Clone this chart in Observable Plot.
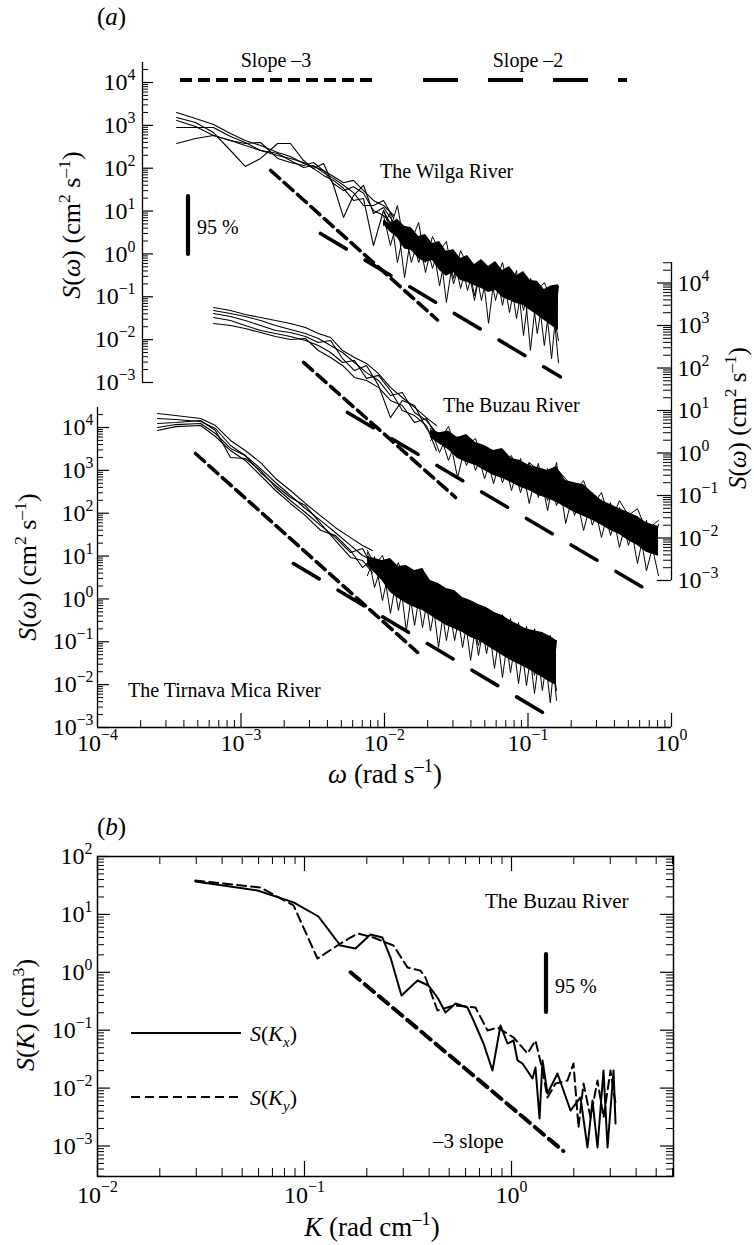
<!DOCTYPE html>
<html><head><meta charset="utf-8">
<script src="https://cdn.jsdelivr.net/npm/d3@7"></script>
<script src="https://cdn.jsdelivr.net/npm/@observablehq/plot@0.6"></script>
<style>
html,body{margin:0;padding:0;background:#fff;}
#chart{position:relative;width:754px;height:1245px;overflow:hidden;background:#fff;font-family:"Liberation Serif","Times New Roman",Times,serif;}
#chart svg{position:absolute;left:0;top:0;font-family:"Liberation Serif","Times New Roman",Times,serif;}
</style></head><body><div id="chart"></div>
<script>
// ================= DATA =================
// Tick decades
const sDecadesA = [1e-3, 1e-2, 1e-1, 1, 10, 100, 1e3, 1e4];
const omegaDecades = [1e-4, 1e-3, 1e-2, 1e-1, 1];
const kDecades = [1e-2, 1e-1, 1];
const sDecadesB = [1e-3, 1e-2, 1e-1, 1, 10, 100];

// ---- Panel (a): The Wilga River ----
const wilgaLowOmega = [3.56e-4, 4.82e-4, 6.43e-4, 8.45e-4, 1.07e-3, 1.37e-3, 1.80e-3, 2.21e-3, 2.73e-3, 3.20e-3, 3.76e-3, 4.41e-3, 5.18e-3, 6.08e-3, 7.14e-3, 8.38e-3, 9.84e-3, 1.16e-2];
const wilgaLowS = [
  [2000, 1450, 1050, 646, 444, 339, 233, 188, 129, 110, 88, 64, 46, 52, 30, 17.7, 13.5, 7.9],
  [1520, 1170, 681, 259, 110, 169, 378, 378, 151, 98, 129, 40, 7.1, 23, 40, 8.8, 12.1, 5.4],
  [891, 891, 891, 550, 398, 259, 198, 169, 136, 98, 68, 52, 34, 17.7, 19.6, 1.57, 10.3, 3.5],
  [378, 493, 580, 444, 339, 259, 220, 151, 104, 116, 79, 58, 40, 27, 13.5, 13.5, 17.7, 6.7],
  [1300, 940, 580, 444, 378, 398, 169, 136, 116, 136, 88, 44, 30, 37, 26, 10.3, 7.9, 4.6]
];
const wilgaBandOmega = [9.84e-3, 1.10e-2, 1.23e-2, 1.38e-2, 1.54e-2, 1.73e-2, 1.93e-2, 2.16e-2, 2.42e-2, 2.70e-2, 3.03e-2, 3.39e-2, 3.79e-2, 4.24e-2, 4.74e-2, 5.31e-2, 5.94e-2, 6.64e-2, 7.43e-2, 8.32e-2, 9.31e-2, 0.104, 0.116, 0.130, 0.146, 0.163];
const wilgaBandHigh = [6.0, 5.0, 6.5, 4.4, 4.1, 2.55, 2.84, 1.75, 1.95, 1.14, 1.27, 0.78, 0.92, 0.57, 0.74, 0.51, 0.67, 0.41, 0.51, 0.31, 0.39, 0.24, 0.23, 0.148, 0.18, 0.19];
const wilgaBandLow = [4.8, 3.2, 2.4, 1.3, 1.2, 0.78, 0.63, 0.70, 0.41, 0.30, 0.37, 0.24, 0.215, 0.18, 0.156, 0.126, 0.14, 0.096, 0.082, 0.070, 0.063, 0.048, 0.037, 0.028, 0.021, 0.0163];
const wilgaSpikes = [
  [7.9, 1.57, 6.0, 0.28, 3.16, 0.63, 2.06, 0.46, 1.57, 0.074, 0.92, 0.156, 0.70, 0.107, 0.63, 0.024, 0.51, 0.063, 0.37, 0.031, 0.31, 0.0056, 0.18, 0.0073, 0.156, 0.0029],
  [4.6, 9.3, 0.63, 3.9, 0.63, 2.55, 0.37, 1.75, 0.18, 1.2, 0.20, 0.78, 0.14, 0.57, 0.082, 0.51, 0.082, 0.41, 0.043, 0.31, 0.048, 0.24, 0.0139, 0.148, 0.0036, 0.18],
  [10.3, 3.9, 13.5, 1.57, 2.06, 5.4, 0.63, 2.55, 1.2, 1.95, 0.267, 1.2, 0.54, 0.082, 0.63, 0.41, 0.215, 0.63, 0.126, 0.41, 0.0125, 0.267, 0.14, 0.215, 0.082, 0.0095]
];
const wilgaSlope3Omega = [1.61e-3, 2.34e-2], wilgaSlope3S = [88.5, 0.0287];
const wilgaSlope2Omega = [3.58e-3, 0.168], wilgaSlope2S = [3.0, 1.36e-3];

// ---- Panel (a): The Buzau River ----
const buzauLowOmega = [6.43e-4, 8.45e-4, 1.07e-3, 1.37e-3, 1.74e-3, 2.21e-3, 2.81e-3, 3.46e-3, 4.21e-3, 5.10e-3, 6.18e-3, 7.49e-3, 9.08e-3, 1.10e-2, 1.33e-2, 1.62e-2, 1.96e-2, 2.30e-2];
const buzauLowS = [
  [2650, 2250, 1820, 1540, 1310, 1110, 897, 648, 522, 258, 177, 128, 74, 35, 20.2, 11.8, 6.8, 4.4],
  [2250, 1910, 1630, 1310, 1000, 805, 648, 494, 338, 232, 135, 78, 51, 22.5, 26.5, 9.0, 5.8, 3.03],
  [1910, 1630, 1310, 1000, 762, 684, 551, 398, 444, 167, 87, 115, 39, 6.8, 17.2, 13.1, 3.77, 1.97],
  [1540, 1310, 1000, 762, 648, 551, 444, 338, 232, 135, 150, 57, 67, 29.5, 10.0, 7.6, 4.4, 1.15],
  [1110, 1000, 850, 684, 551, 469, 494, 258, 177, 115, 60, 51, 35, 17.2, 13.1, 5.2, 6.5, 2.44]
];
const buzauBandOmega = [2.09e-2, 2.42e-2, 2.79e-2, 3.23e-2, 3.73e-2, 4.31e-2, 4.98e-2, 5.75e-2, 6.64e-2, 7.67e-2, 8.87e-2, 0.102, 0.118, 0.137, 0.158, 0.183, 0.211, 0.244, 0.281, 0.325, 0.376, 0.434, 0.501, 0.579, 0.669, 0.812];
const buzauBandHigh = [3.38, 3.0, 3.3, 2.32, 2.72, 1.77, 1.50, 1.15, 1.28, 0.74, 0.67, 0.51, 0.456, 0.39, 0.48, 0.225, 0.20, 0.18, 0.117, 0.076, 0.061, 0.049, 0.040, 0.032, 0.023, 0.0187];
const buzauBandLow = [2.32, 1.6, 1.2, 0.74, 0.60, 0.51, 0.39, 0.295, 0.25, 0.20, 0.154, 0.131, 0.100, 0.085, 0.068, 0.052, 0.040, 0.032, 0.026, 0.020, 0.015, 0.0121, 0.0087, 0.0067, 0.0046, 0.0037];
const buzauSpikes = [
  [3.77, 1.03, 3.03, 0.265, 1.97, 0.39, 1.35, 0.19, 1.03, 0.131, 0.74, 0.065, 0.57, 0.044, 0.60, 0.022, 0.154, 0.015, 0.095, 0.0103, 0.068, 0.0060, 0.040, 0.0025, 0.026, 0.0013],
  [1.97, 3.03, 0.67, 2.44, 0.51, 1.50, 0.25, 1.08, 0.20, 0.78, 0.117, 0.60, 0.090, 0.43, 0.058, 0.19, 0.034, 0.131, 0.020, 0.080, 0.0115, 0.052, 0.0067, 0.032, 0.0017, 0.021],
  [4.4, 1.97, 4.2, 1.03, 1.50, 2.19, 0.43, 1.03, 0.60, 0.87, 0.225, 0.60, 0.39, 0.076, 0.43, 0.25, 0.117, 0.225, 0.058, 0.117, 0.023, 0.076, 0.034, 0.049, 0.015, 0.026]
];
const buzauSlope3Omega = [2.73e-3, 3.13e-2], buzauSlope3S = [135, 0.0898];
const buzauSlope2Omega = [5.52e-3, 0.773], buzauSlope2S = [9.0, 4.6e-4];

// ---- Panel (a): The Tirnava Mica River ----
const tirnavaLowOmega = [2.62e-4, 3.50e-4, 5.23e-4, 6.64e-4, 8.45e-4, 1.07e-3, 1.37e-3, 1.74e-3, 2.21e-3, 2.81e-3, 3.58e-3, 4.56e-3, 5.80e-3, 7.03e-3, 8.24e-3];
const tirnavaLowS = [
  [21200, 19100, 16200, 11100, 4980, 2900, 1520, 646, 339, 169, 88, 46, 27, 17.7, 13.5],
  [16200, 15400, 13800, 9480, 3800, 2220, 1100, 521, 259, 129, 68, 35, 17.7, 10.3, 7.9],
  [12400, 13100, 14600, 8510, 2000, 1890, 993, 398, 198, 104, 52, 27, 12.1, 15.0, 5.7],
  [10000, 11700, 12400, 7240, 3240, 2220, 891, 444, 233, 151, 58, 23, 9.3, 7.9, 4.1],
  [8510, 10500, 11100, 6170, 2900, 1700, 759, 339, 169, 88, 40, 30, 13.5, 5.4, 8.8]
];
const tirnavaBandOmega = [7.61e-3, 8.52e-3, 9.68e-3, 1.10e-2, 1.25e-2, 1.42e-2, 1.62e-2, 1.84e-2, 2.09e-2, 2.38e-2, 2.70e-2, 3.08e-2, 3.50e-2, 3.98e-2, 4.52e-2, 5.14e-2, 5.84e-2, 6.64e-2, 7.55e-2, 8.59e-2, 9.76e-2, 0.111, 0.126, 0.143, 0.158];
const tirnavaBandHigh = [9.8, 8.8, 7.9, 8.8, 5.7, 6.0, 4.6, 5.1, 2.7, 2.29, 1.75, 1.57, 1.08, 0.92, 0.74, 0.63, 0.48, 0.41, 0.31, 0.25, 0.20, 0.18, 0.165, 0.133, 0.107];
const tirnavaBandLow = [6.0, 4.1, 2.6, 1.41, 1.02, 0.78, 0.63, 0.54, 0.41, 0.31, 0.24, 0.20, 0.165, 0.126, 0.107, 0.082, 0.063, 0.048, 0.037, 0.030, 0.024, 0.019, 0.0147, 0.0112, 0.0095];
const tirnavaSpikes = [
  [12.1, 1.85, 7.1, 0.46, 5.4, 0.18, 4.1, 0.215, 2.42, 0.074, 1.57, 0.107, 1.02, 0.037, 0.70, 0.053, 0.48, 0.0147, 0.35, 0.0106, 0.23, 0.0062, 0.165, 0.0038, 0.107],
  [3.5, 9.8, 0.92, 6.7, 0.54, 4.6, 0.24, 3.5, 0.18, 1.85, 0.107, 1.34, 0.074, 0.83, 0.048, 0.60, 0.024, 0.43, 0.019, 0.28, 0.0095, 0.20, 0.0073, 0.14, 0.0043],
  [13.5, 6.0, 10.3, 2.7, 7.1, 1.57, 3.5, 5.1, 0.92, 1.57, 0.70, 0.24, 0.92, 0.48, 0.082, 0.54, 0.24, 0.31, 0.063, 0.24, 0.107, 0.0164, 0.14, 0.070, 0.0073]
];
const tirnavaSlope3Omega = [4.82e-4, 1.70e-2], tirnavaSlope3S = [2470, 0.0565];
const tirnavaSlope2Omega = [2.32e-3, 0.132], tirnavaSlope2S = [6.7, 2.06e-3];

// ---- Panel (b): The Buzau River, wavenumber spectra ----
const sxK = [0.0297, 0.0593, 0.0885, 0.1168, 0.1492, 0.1763, 0.2084, 0.2380, 0.2603, 0.2941, 0.3515, 0.3972, 0.4390, 0.4799, 0.5365, 0.6129, 0.6552, 0.7325, 0.8093, 0.8849, 0.9566, 1.023, 1.069, 1.130, 1.263, 1.306, 1.366, 1.412, 1.492, 1.668, 1.928, 2.154, 2.328, 2.462, 2.603, 2.783, 2.910, 3.111, 3.181];
const sxS = [37.0, 25.9, 16.1, 9.2, 2.90, 2.58, 4.50, 3.99, 1.80, 0.398, 0.722, 0.591, 0.367, 0.202, 0.289, 0.247, 0.147, 0.0589, 0.0201, 0.1206, 0.0589, 0.0664, 0.0300, 0.0266, 0.0147, 0.0227, 0.00299, 0.0300, 0.00807, 0.0179, 0.0041, 0.00689, 0.000942, 0.00611, 0.000942, 0.0201, 0.000942, 0.0201, 0.00245];
const syK = [0.0297, 0.0406, 0.0613, 0.0885, 0.1155, 0.1492, 0.1803, 0.2154, 0.2692, 0.3145, 0.3634, 0.3841, 0.4390, 0.5246, 0.6700, 0.7658, 0.8559, 1.023, 1.195, 1.306, 1.412, 1.492, 1.632, 1.864, 1.993, 2.107, 2.228, 2.408, 2.603, 2.783, 3.008, 3.181];
const syS = [38.5, 34.2, 29.2, 14.3, 1.73, 3.14, 4.68, 3.99, 2.90, 1.21, 1.07, 0.813, 0.219, 0.267, 0.247, 0.0989, 0.1114, 0.0748, 0.0396, 0.0664, 0.0201, 0.00689, 0.0120, 0.01355, 0.0266, 0.00209, 0.0120, 0.00311, 0.01355, 0.00311, 0.0201, 0.00542];
const bSlopeK = [0.167, 1.78], bSlopeS = [1.0, 8.2e-4];

// ================= LAYOUT =================
const W = 754, H = 1245;
const FONT = '"Liberation Serif", "Times New Roman", Times, serif';
const TICK_FS = 24;
const chart = document.getElementById("chart");

// pixel mappings of the original figure (layout only)
const xA = d3.scaleLog().domain([1e-4, 1]).range([97, 671]);
const yWil = d3.scaleLog().domain([1e-3, 1e4]).range([382, 82]);
const yBuz = d3.scaleLog().domain([1e-3, 1e4]).range([580, 282.5]);
const yTir = d3.scaleLog().domain([1e-3, 1e4]).range([727, 427]);
const xK = d3.scaleLog().domain([1e-2, 1]).range([97, 511]);
const yK = d3.scaleLog().domain([1e-3, 100]).range([1145.5, 856]);

const rowsOf = (xs, ys2d) => ys2d.flatMap((ys, i) => ys.map((y, j) => ({x: xs[j], y, s: i})));
const bandOf = (xs, lo, hi) => xs.map((x, j) => ({x, lo: lo[j], hi: hi[j]}));
const pairOf = (xs, ys) => xs.map((x, j) => ({x, y: ys[j]}));
const fmtDecade = d => "10^" + Math.round(Math.log10(d));
function minorTicks([lo, hi]) {
  const out = [];
  for (let e = Math.floor(Math.log10(lo)); e <= Math.ceil(Math.log10(hi)); e++)
    for (let m = 2; m <= 9; m++) { const v = m * Math.pow(10, e); if (v >= lo * 0.999 && v <= hi * 1.001) out.push(v); }
  return out;
}

function makePlot({frame, xDomain, yDomain, xAxis, yAxis, marks}) {
  const [l, t, r, b] = frame;
  return Plot.plot({
    width: W, height: H,
    marginLeft: l, marginTop: t, marginRight: W - r, marginBottom: H - b,
    x: Object.assign({type: "log", domain: xDomain}, xAxis ? {} : {axis: null}),
    y: Object.assign({type: "log", domain: yDomain}, yAxis ? {} : {axis: null}),
    style: `background: transparent; font-family: ${FONT}; font-size: ${TICK_FS}px; color: black; overflow: visible;`,
    marks
  });
}

function spectrumMarks(lowOmega, lowS, bandOmega, bandLow, bandHigh, spikes, s3o, s3s, s2o, s2s) {
  return [
    Plot.areaY(bandOf(bandOmega, bandLow, bandHigh), {x: "x", y1: "lo", y2: "hi", fill: "black"}),
    Plot.line(rowsOf(bandOmega, spikes), {x: "x", y: "y", z: "s", stroke: "black", strokeWidth: 1}),
    Plot.line(rowsOf(lowOmega, lowS), {x: "x", y: "y", z: "s", stroke: "black", strokeWidth: 1.1}),
    Plot.line(pairOf(s3o, s3s), {x: "x", y: "y", stroke: "black", strokeWidth: 3.6, strokeDasharray: "12,6"}),
    Plot.line(pairOf(s2o, s2s), {x: "x", y: "y", stroke: "black", strokeWidth: 3.6, strokeDasharray: "30,22"})
  ];
}

// ---- Wilga ----
{
  const fr = [142, 62, 671, 382];
  const xD = [xA.invert(142), 1], yD = [1e-3, yWil.invert(62)];
  const fw = fr[2] - fr[0];
  chart.append(makePlot({frame: fr, xDomain: xD, yDomain: yD, xAxis: false, yAxis: true, marks: [
    ...spectrumMarks(wilgaLowOmega, wilgaLowS, wilgaBandOmega, wilgaBandLow, wilgaBandHigh, wilgaSpikes, wilgaSlope3Omega, wilgaSlope3S, wilgaSlope2Omega, wilgaSlope2S),
    Plot.ruleX([xD[0]], {strokeWidth: 1.3}),
    Plot.tickY(sDecadesA, {insetRight: fw - 11, strokeWidth: 1.2}),
    Plot.tickY(minorTicks(yD), {insetRight: fw - 6, strokeWidth: 1}),
    Plot.axisY({anchor: "left", ticks: sDecadesA, tickSize: 0, tickPadding: 7, tickFormat: fmtDecade, label: null})
  ]}));
}
// ---- Buzau ----
{
  const fr = [97, 262, 671, 580];
  const xD = [1e-4, 1], yD = [1e-3, yBuz.invert(262)];
  const fw = fr[2] - fr[0];
  chart.append(makePlot({frame: fr, xDomain: xD, yDomain: yD, xAxis: false, yAxis: true, marks: [
    ...spectrumMarks(buzauLowOmega, buzauLowS, buzauBandOmega, buzauBandLow, buzauBandHigh, buzauSpikes, buzauSlope3Omega, buzauSlope3S, buzauSlope2Omega, buzauSlope2S),
    Plot.ruleX([xD[1]], {strokeWidth: 1.3}),
    Plot.tickY(sDecadesA, {insetLeft: fw - 14, strokeWidth: 1.2}),
    Plot.tickY(minorTicks(yD), {insetLeft: fw - 8, strokeWidth: 1}),
    Plot.axisY({anchor: "right", ticks: sDecadesA, tickSize: 0, tickPadding: 6, tickFormat: fmtDecade, label: null})
  ]}));
}
// ---- Tirnava Mica ----
{
  const fr = [97, 407, 671, 727];
  const xD = [1e-4, 1], yD = [1e-3, yTir.invert(407)];
  const fw = fr[2] - fr[0], fh = fr[3] - fr[1];
  chart.append(makePlot({frame: fr, xDomain: xD, yDomain: yD, xAxis: true, yAxis: true, marks: [
    ...spectrumMarks(tirnavaLowOmega, tirnavaLowS, tirnavaBandOmega, tirnavaBandLow, tirnavaBandHigh, tirnavaSpikes, tirnavaSlope3Omega, tirnavaSlope3S, tirnavaSlope2Omega, tirnavaSlope2S),
    Plot.ruleX([xD[0]], {strokeWidth: 1.3}),
    Plot.ruleY([yD[0]], {strokeWidth: 1.3}),
    Plot.tickY(sDecadesA, {insetRight: fw - 12, strokeWidth: 1.2}),
    Plot.tickY(minorTicks(yD), {insetRight: fw - 6, strokeWidth: 1}),
    Plot.tickX(omegaDecades, {insetTop: fh - 14, strokeWidth: 1.2}),
    Plot.tickX(minorTicks(xD), {insetTop: fh - 7, strokeWidth: 1}),
    Plot.axisY({anchor: "left", ticks: sDecadesA, tickSize: 0, tickPadding: 4, tickFormat: fmtDecade, label: null}),
    Plot.axisX({anchor: "bottom", ticks: omegaDecades, tickSize: 0, tickPadding: 6, tickFormat: fmtDecade, label: null})
  ]}));
}
// ---- Panel (b) ----
{
  const fr = [97, 856, 673, 1176];
  const xD = [1e-2, xK.invert(673)], yD = [yK.invert(1176), 100];
  const fw = fr[2] - fr[0], fh = fr[3] - fr[1];
  chart.append(makePlot({frame: fr, xDomain: xD, yDomain: yD, xAxis: true, yAxis: true, marks: [
    Plot.frame({strokeWidth: 1.5}),
    Plot.line(pairOf(bSlopeK, bSlopeS), {x: "x", y: "y", stroke: "black", strokeWidth: 4, strokeDasharray: "12,6.5"}),
    Plot.line(pairOf(syK, syS), {x: "x", y: "y", stroke: "black", strokeWidth: 2, strokeDasharray: "9,5"}),
    Plot.line(pairOf(sxK, sxS), {x: "x", y: "y", stroke: "black", strokeWidth: 2}),
    Plot.tickY(sDecadesB, {insetRight: fw - 13, strokeWidth: 1.2}),
    Plot.tickY(minorTicks(yD), {insetRight: fw - 7, strokeWidth: 1}),
    Plot.tickY(sDecadesB, {insetLeft: fw - 13, strokeWidth: 1.2}),
    Plot.tickY(minorTicks(yD), {insetLeft: fw - 7, strokeWidth: 1}),
    Plot.tickX(kDecades, {insetTop: fh - 15, strokeWidth: 1.2}),
    Plot.tickX(minorTicks(xD), {insetTop: fh - 8, strokeWidth: 1}),
    Plot.tickX(kDecades, {insetBottom: fh - 15, strokeWidth: 1.2}),
    Plot.tickX(minorTicks(xD), {insetBottom: fh - 8, strokeWidth: 1}),
    Plot.axisY({anchor: "left", ticks: sDecadesB, tickSize: 0, tickPadding: 5, tickFormat: fmtDecade, label: null}),
    Plot.axisX({anchor: "bottom", ticks: kDecades, tickSize: 0, tickPadding: 9, tickFormat: fmtDecade, label: null})
  ]}));
}

// superscript tick labels
const NS = "http://www.w3.org/2000/svg";
chart.querySelectorAll("svg text").forEach(t => {
  const m = /^10\^(-?\d+)$/.exec(t.textContent);
  if (!m) return;
  t.textContent = "";
  t.setAttribute("font-size", TICK_FS);
  t.setAttribute("font-family", FONT);
  t.style.fontSize = TICK_FS + "px";
  t.style.fontFamily = FONT;
  const a = document.createElementNS(NS, "tspan"); a.textContent = "10"; t.appendChild(a);
  const b = document.createElementNS(NS, "tspan"); b.textContent = m[1].replace("-", "\u2212");
  b.setAttribute("dy", -0.42 * TICK_FS); b.style.fontSize = (0.66 * TICK_FS) + "px"; t.appendChild(b);
});

// ================= OVERLAY: titles, annotations, legends =================
const ov = d3.create("svg").attr("width", W).attr("height", H).attr("viewBox", `0 0 ${W} ${H}`)
  .attr("font-family", FONT).style("overflow", "visible");
function rich(parts, {x, y, size = 20, anchor = "start", rotate = 0}) {
  const t = ov.append("text").attr("transform", `translate(${x},${y})` + (rotate ? ` rotate(${rotate})` : ""))
    .attr("font-size", size).attr("text-anchor", anchor).attr("fill", "black");
  let cur = 0;
  for (const p of parts) {
    const ts = t.append("tspan").text(p.t);
    if (p.it) ts.attr("font-style", "italic");
    const target = p.sup ? -0.4 * size : p.sub ? 0.25 * size : 0;
    if (target !== cur) { ts.attr("dy", target - cur); cur = target; }
    if (p.sup || p.sub) ts.attr("font-size", 0.68 * size);
  }
}
function seg(x1, y1, x2, y2, w, dash, cap) {
  const l = ov.append("line").attr("x1", x1).attr("y1", y1).attr("x2", x2).attr("y2", y2)
    .attr("stroke", "black").attr("stroke-width", w).attr("stroke-linecap", cap || "butt");
  if (dash) l.attr("stroke-dasharray", dash);
}
const sOmegaTitle = [{t: "S", it: true}, {t: "("}, {t: "\u03c9", it: true}, {t: ") (cm"}, {t: "2", sup: true}, {t: " s"}, {t: "\u20131", sup: true}, {t: ")"}];

// panel (a)
rich([{t: "("}, {t: "a", it: true}, {t: ")"}], {x: 97, y: 25, size: 25});
rich([{t: "Slope \u20133"}], {x: 276, y: 67, size: 20, anchor: "middle"});
rich([{t: "Slope \u20132"}], {x: 528, y: 67, size: 20, anchor: "middle"});
seg(180, 80, 377, 80, 4, "12,6");
seg(423, 80, 627, 80, 4, "35,30");
seg(188, 196, 188, 254, 4.2, null, "round");
rich([{t: "95 %"}], {x: 197, y: 234, size: 20});
rich([{t: "The Wilga River"}], {x: 380, y: 178, size: 20});
rich([{t: "The Buzau River"}], {x: 443, y: 412, size: 20});
rich([{t: "The Tirnava Mica River"}], {x: 128, y: 697, size: 20});
rich(sOmegaTitle, {x: 80, y: 225, size: 26, anchor: "middle", rotate: -90});
rich(sOmegaTitle, {x: 36, y: 567, size: 26, anchor: "middle", rotate: -90});
rich(sOmegaTitle, {x: 746, y: 418, size: 25, anchor: "middle", rotate: -90});
rich([{t: "\u03c9", it: true}, {t: " (rad s"}, {t: "\u20131", sup: true}, {t: ")"}], {x: 385, y: 783, size: 27, anchor: "middle"});

// panel (b)
rich([{t: "("}, {t: "b", it: true}, {t: ")"}], {x: 97, y: 835, size: 25});
rich([{t: "S", it: true}, {t: "("}, {t: "K", it: true}, {t: ") (cm"}, {t: "3", sup: true}, {t: ")"}], {x: 34, y: 1015, size: 26, anchor: "middle", rotate: -90});
rich([{t: "K", it: true}, {t: " (rad cm"}, {t: "\u20131", sup: true}, {t: ")"}], {x: 372, y: 1236, size: 27, anchor: "middle"});
rich([{t: "The Buzau River"}], {x: 485, y: 908, size: 21});
seg(546, 954, 546, 1012, 4.2, null, "round");
rich([{t: "95 %"}], {x: 555, y: 993, size: 20});
rich([{t: "\u20133 slope"}], {x: 433, y: 1148, size: 21});
seg(131, 1033, 241, 1033, 2);
rich([{t: "S", it: true}, {t: "("}, {t: "K", it: true}, {t: "x", it: true, sub: true}, {t: ")"}], {x: 250, y: 1041, size: 22});
seg(131, 1097, 241, 1097, 2, "9,5");
rich([{t: "S", it: true}, {t: "("}, {t: "K", it: true}, {t: "y", it: true, sub: true}, {t: ")"}], {x: 250, y: 1105, size: 22});

chart.append(ov.node());
</script></body></html>
